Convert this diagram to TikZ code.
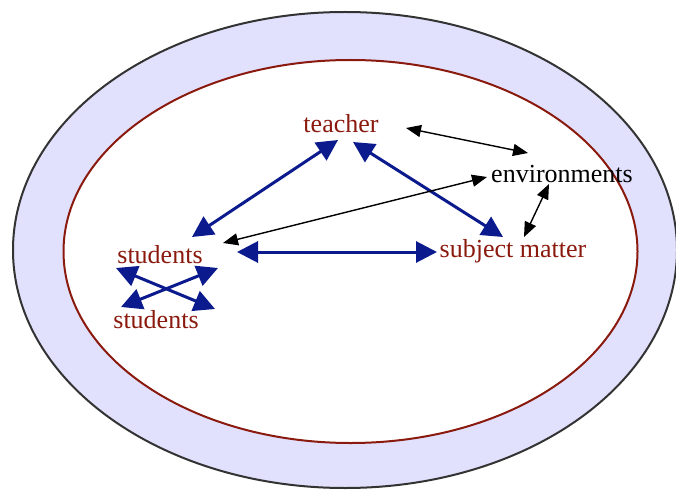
\documentclass[tikz,border=0pt]{standalone}
\usepackage{fontspec}
\setmainfont{Liberation Serif}
\usetikzlibrary{arrows.meta}

\begin{document}
\begin{tikzpicture}[x=1pt,y=-1pt,
		word/.style={anchor=base,inner sep=0pt,font=\fontsize{26}{30}\selectfont},
		bluelink/.style={draw=linkblue,line width=3pt,{Triangle[length=21pt,width=21pt]}-{Triangle[length=21pt,width=21pt]}},
		blacklink/.style={draw=black,line width=1.4pt,{Triangle[length=15pt,width=12pt]}-{Triangle[length=15pt,width=12pt]}}]

		\definecolor{ringfill}{HTML}{E1E1FE}
		\definecolor{ringline}{HTML}{333333}
		\definecolor{darkred}{HTML}{8B1A0E}
		\definecolor{linkblue}{HTML}{0B1A8C}

		\useasboundingbox (0,0) rectangle (676,489);

		%\draw[step=50,gray,very thin] (0,0) grid (676,489);

		\draw[ringline, line width=2pt, fill=ringfill] (345,250) ellipse [x radius=332, y radius=238];
		\draw[darkred, line width=2pt, fill=white] (350.5,251.5) ellipse [x radius=287, y radius=191.5];

		\node[word,darkred] (teacher) at (341,133) {teacher};
		\node[word,darkred] (students) at (160,263) {students};
		\node[word,darkred] (peers) at (156,328) {students};
		\node[word,darkred] (subject) at (513,257) {subject matter};
		\node[word,black] (env) at (562,182) {environments};

		\draw[bluelink] ([shift={(32,-26)}]students.base) -- ([shift={(-3,7)}]teacher.base);
		\draw[bluelink] ([shift={(12,9)}]teacher.base) -- ([shift={(-10,-20)}]subject.base);
		\draw[bluelink] ([shift={(77,-11)}]students.base) -- ([shift={(-76,-5)}]subject.base);
		\draw[bluelink] ([shift={(-44,5)}]students.base) -- ([shift={(59,-19)}]peers.base);
		\draw[bluelink] ([shift={(58,5)}]students.base) -- ([shift={(-35,-21)}]peers.base);

		\draw[blacklink] ([shift={(65,-5)}]teacher.base) -- ([shift={(-34,-29)}]env.base);
		\draw[blacklink] ([shift={(63,-20)}]students.base) -- ([shift={(-75,-5)}]env.base);
		\draw[blacklink] ([shift={(-13,2)}]env.base) -- ([shift={(11,-20)}]subject.base);

	\end{tikzpicture}
\end{document}
